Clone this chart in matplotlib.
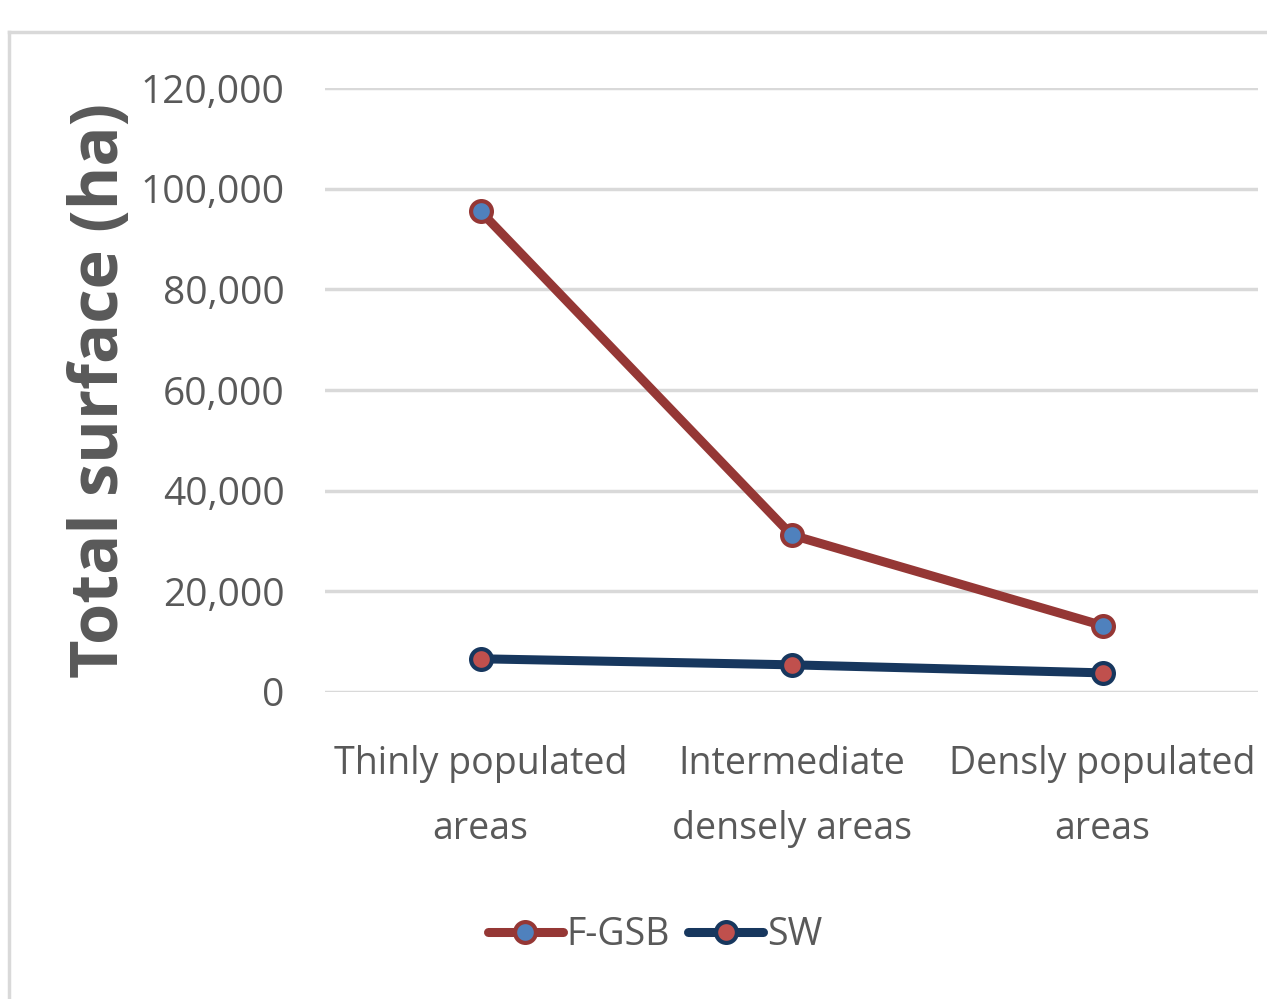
import matplotlib
matplotlib.use("Agg")
import matplotlib.pyplot as plt
from matplotlib.lines import Line2D
from matplotlib.ticker import FuncFormatter

# data
categories = ["Thinly populated\nareas", "Intermediate\ndensely areas", "Densly populated\nareas"]
fgsb = [95500, 31200, 13200]
sw = [6600, 5400, 3800]

plt.rcParams['font.family'] = ['Open Sans', 'DejaVu Sans']
grey = '#595959'

fig = plt.figure(figsize=(12.67, 9.99), dpi=100)
ax = fig.add_axes([325/1267, 307/999, 933/1267, 604/999])

x = range(len(categories))
ax.plot(x, fgsb, color='#953735', lw=6.5, marker='o', ms=15,
        mfc='#4F81BD', mec='#953735', mew=3, label='F-GSB', solid_capstyle='round')
ax.plot(x, sw, color='#17375E', lw=6.5, marker='o', ms=15,
        mfc='#C0504D', mec='#17375E', mew=3, label='SW', solid_capstyle='round')

ax.set_xlim(-0.5, 2.5)
ax.set_ylim(0, 120000)
ax.set_yticks(range(0, 120001, 20000))
ax.yaxis.set_major_formatter(FuncFormatter(lambda v, p: f"{int(v):,}"))
ax.set_xticks(list(x))
ax.set_xticklabels(categories, linespacing=1.95)
ax.grid(axis='y', color='#D9D9D9', lw=2.5)
ax.set_axisbelow(True)
for s in ax.spines.values():
    s.set_visible(False)
ax.tick_params(length=0, labelsize=28, colors=grey, pad=29)
ax.tick_params(axis='x', pad=38, labelsize=27)

ax.set_ylabel('Total surface (ha)', fontsize=48, fontweight='bold', color=grey)
ax.yaxis.set_label_coords(-191/933, 0.5)

ax.legend(loc='center', bbox_to_anchor=(655/1267, 1 - 935/999), bbox_transform=fig.transFigure,
          ncol=2, frameon=False, fontsize=27, labelcolor=grey, handlelength=2.0,
          handletextpad=0.1, columnspacing=0.5)

# outer chart border (left and top)
fig.add_artist(Line2D([9/1267, 9/1267], [0, 1 - 32/999], color='#D9D9D9', lw=2.5, transform=fig.transFigure))
fig.add_artist(Line2D([9/1267, 1], [1 - 32/999, 1 - 32/999], color='#D9D9D9', lw=2.5, transform=fig.transFigure))

fig.savefig('out.png', dpi=100)
